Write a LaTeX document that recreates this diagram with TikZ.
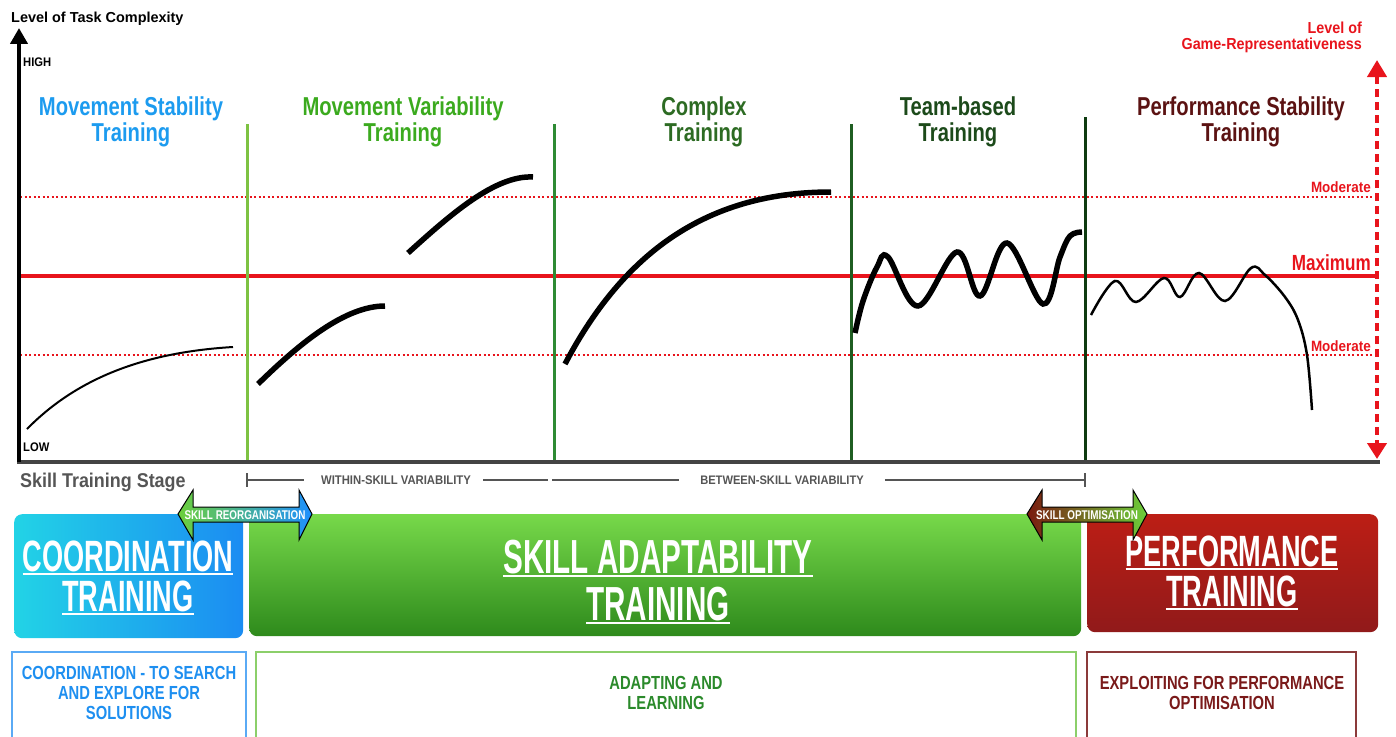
\documentclass[tikz,border=0pt]{standalone}
\usepackage{fontspec}
\setmainfont{Liberation Sans}
\newfontfamily\fA[FakeStretch=0.9]{Liberation Sans}
\newfontfamily\fB[FakeStretch=0.78]{Liberation Sans}
\newfontfamily\fC[FakeStretch=0.62]{Liberation Sans}
\usetikzlibrary{arrows.meta,shadings}
\definecolor{cRed}{HTML}{E8141C}
\definecolor{cGray}{HTML}{555555}
\definecolor{cMS}{HTML}{1C9BEF}
\definecolor{cMV}{HTML}{3BAA1E}
\definecolor{cCT}{HTML}{2D6B23}
\definecolor{cTB}{HTML}{1C4A1A}
\definecolor{cPS}{HTML}{5B1212}
\definecolor{vA}{HTML}{7DC242}
\definecolor{vB}{HTML}{2E8B34}
\definecolor{vC}{HTML}{1F5E22}
\definecolor{vD}{HTML}{0E3B10}
\definecolor{bCa}{HTML}{22D3E6}
\definecolor{bCb}{HTML}{1B8CF2}
\definecolor{bSa}{HTML}{77D94A}
\definecolor{bSb}{HTML}{2E8A1C}
\definecolor{bPa}{HTML}{BC1E15}
\definecolor{bPb}{HTML}{911A1A}
\definecolor{lA}{HTML}{5AAAF5}
\definecolor{tA}{HTML}{1E8FF0}
\definecolor{lB}{HTML}{8CCF6A}
\definecolor{tB}{HTML}{2B8A2B}
\definecolor{lC}{HTML}{8B3A3A}
\definecolor{tC}{HTML}{7A1A1A}
\definecolor{arM}{HTML}{7A1A10}
\definecolor{arG}{HTML}{6CCF3A}
\definecolor{arB}{HTML}{1E90FF}
\newcommand\myul[1]{\setbox0\hbox{#1}\leavevmode\rlap{\rule[-4pt]{\wd0}{2.4pt}}\box0}
\tikzset{
  txt/.style={inner sep=0pt, font=\fA\bfseries},
  title/.style={inner sep=0pt, align=center, font=\fB\bfseries\fontsize{26}{26}\selectfont},
  stageline/.style={line width=3bp},
  thickcurve/.style={line width=5.5bp, black},
  thincurve/.style={line width=2bp, black},
  dotline/.style={cRed, line width=1.5bp, dash pattern=on 2bp off 2.5bp},
  bigbox/.style={rounded corners=8bp, inner sep=0pt, anchor=north west},
  bigtxt/.style={inner sep=0pt, align=center, text=white},
  arrowtxt/.style={inner sep=0pt, text=white, font=\fB\bfseries\fontsize{12.7}{14}\selectfont},
  lowtxt/.style={inner sep=0pt, align=center, font=\fB\bfseries\fontsize{19}{20}\selectfont},
  brk/.style={cGray, line width=2bp},
}
\begin{document}
\begin{tikzpicture}[x=1bp,y=-1bp]
\useasboundingbox (0,0) rectangle (1396,736);
\clip (0,0) rectangle (1396,736);

% labels of axes
\node[txt, anchor=base west, font=\bfseries\fontsize{14.5}{17}\selectfont] (ylab) at (11,23) {Level of Task Complexity};
\node[txt, anchor=base west, font=\fA\bfseries\fontsize{12.5}{14}\selectfont] (high) at (23,67) {HIGH};
\node[txt, anchor=base west, font=\fA\bfseries\fontsize{12.5}{14}\selectfont] (low) at (23,451) {LOW};
\node[txt, anchor=base east, align=right, text=cRed, font=\fA\bfseries\fontsize{16}{17}\selectfont] (glab) at (1362,50) {Level of\\Game-Representativeness};

% reference lines
\coordinate (modTl) at (20,197); \coordinate (modTr) at (1372,197);
\coordinate (maxl) at (20,276); \coordinate (maxr) at (1377,276);
\coordinate (modBl) at (20,355); \coordinate (modBr) at (1372,355);
\draw[dotline] (modTl) -- (modTr);
\draw[dotline] (modBl) -- (modBr);
\draw[cRed, line width=3.5bp] (maxl) -- (maxr);
\node[txt, anchor=base east, text=cRed, font=\fA\bfseries\fontsize{15}{17}\selectfont] (modT) at (1371,192) {Moderate};
\node[txt, anchor=base east, text=cRed, font=\fB\bfseries\fontsize{22}{24}\selectfont] (maxlab) at (1371,270) {Maximum};
\node[txt, anchor=base east, text=cRed, font=\fA\bfseries\fontsize{15}{17}\selectfont] (modB) at (1371,351) {Moderate};

% stage dividers
\draw[stageline, vA] (247,124) -- (247,462);
\draw[stageline, vB] (554,124) -- (554,462);
\draw[stageline, vC] (851,124) -- (851,462);
\draw[stageline, vD] (1085,117) -- (1085,462);

% axes
\coordinate (orig) at (19,462);
\coordinate (ytop) at (19,28);
\coordinate (xend) at (1380,462);
\draw[cGray!80!black, line width=3.5bp] (17,462) -- (xend);
\draw[black, line width=4bp, -{Triangle[width=17bp,length=16bp]}] (orig) -- (ytop);
\coordinate (rtop) at (1377,60);
\coordinate (rbot) at (1377,459);
\draw[cRed, line width=4bp, dash pattern=on 8bp off 5bp, {Triangle[width=19bp,length=17bp]}-{Triangle[width=19bp,length=16bp]}] (rtop) -- (rbot);

% stage titles
\node[title, text=cMS] (tMS) at (131,121.5) {Movement Stability\\Training};
\node[title, text=cMV] (tMV) at (403,121.5) {Movement Variability\\Training};
\node[title, text=cCT] (tCT) at (704,121.5) {Complex\\Training};
\node[title, text=cTB] (tTB) at (958,121.5) {Team-based\\Training};
\node[title, text=cPS] (tPS) at (1241,121.5) {Performance Stability\\Training};

% curves
\draw[thincurve] (27,429) .. controls (80,375) and (150,352) .. (233,347);
\draw[thickcurve] (258,384) .. controls (300,343) and (345,306) .. (385,306);
\draw[thickcurve] (408,253) .. controls (450,215) and (495,175) .. (533,177);
\draw[thickcurve] (565,364) .. controls (630,240) and (720,192) .. (831,192);
\draw[thickcurve] plot[smooth, tension=0.6] coordinates {(855,333) (863,301) (877,267) (888,257) (918,306) (957,252) (980,296) (1007,243) (1043,304) (1060,257) (1070,236) (1082,232)};
\draw[thincurve, line width=2.5bp] plot[smooth, tension=0.6] coordinates {(1091,315) (1115,281) (1136,302) (1164,278) (1180,297) (1199,273) (1225,301) (1251,268) (1265,275) (1285,297) (1298,320) (1307,355) (1312,410)};

% skill training stage row
\node[txt, anchor=base west, text=cGray, font=\fA\bfseries\fontsize{20}{22}\selectfont] (sts) at (20,487) {Skill Training Stage};
\node[txt, text=cGray, font=\fA\bfseries\fontsize{12.6}{14}\selectfont] (within) at (396,480) {WITHIN-SKILL VARIABILITY};
\node[txt, text=cGray, font=\fA\bfseries\fontsize{12.4}{14}\selectfont] (between) at (782,480) {BETWEEN-SKILL VARIABILITY};
\coordinate (bA) at (247,480);
\coordinate (bB) at (548,480);
\coordinate (bC) at (552,480);
\coordinate (bD) at (1085,480);
\draw[brk] (247,473) -- (247,487);
\draw[brk] (1085,473) -- (1085,487);
\draw[brk] (bA) -- ([xshift=-17bp]within.west);
\draw[brk] ([xshift=12bp]within.east) -- (bB);
\draw[brk] (bC) -- ([xshift=-21bp]between.west);
\draw[brk] ([xshift=21bp]between.east) -- (bD);

% big boxes
\node[bigbox, left color=bCa, right color=bCb, minimum width=229bp, minimum height=124bp] (coordbox) at (14,514) {};
\node[bigbox, top color=bSa, bottom color=bSb, minimum width=832bp, minimum height=122bp] (adaptbox) at (249,514) {};
\node[bigbox, top color=bPa, bottom color=bPb, minimum width=291bp, minimum height=118bp] (perfbox) at (1087,514) {};
\node[bigtxt, font=\fC\bfseries\fontsize{44}{40}\selectfont] (coordtxt) at (128,578) {\myul{COORDINATION}\\\myul{TRAINING}};
\node[bigtxt, font=\fC\bfseries\fontsize{48}{47}\selectfont] (adapttxt) at (658,582) {\myul{SKILL ADAPTABILITY}\\\myul{TRAINING}};
\node[bigtxt, font=\fC\bfseries\fontsize{44}{40}\selectfont] (perftxt) at (1232,573) {\myul{PERFORMANCE}\\\myul{TRAINING}};

% transition double arrows
\path[left color=arG, right color=arB, draw=black, line width=1bp]
  (178,514) -- (193,490) -- (193,507) -- (299,507) -- (299,490) -- (312,514)
  -- (299,540) -- (299,522) -- (193,522) -- (193,540) -- cycle;
\node[arrowtxt] (reorg) at (245,515) {SKILL REORGANISATION};
\path[left color=arM, right color=arG, draw=black, line width=1bp]
  (1027,514) -- (1042,490) -- (1042,507) -- (1133,507) -- (1133,490) -- (1147,514)
  -- (1133,540) -- (1133,522) -- (1042,522) -- (1042,540) -- cycle;
\node[arrowtxt] (optim) at (1087,515) {SKILL OPTIMISATION};

% lower description frames
\draw[lA, line width=2bp] (12,740) |- (246,652) -- (246,740);
\draw[lB, line width=2bp] (256,740) |- (1076,652) -- (1076,740);
\draw[lC, line width=2bp] (1087,740) |- (1356,652) -- (1356,740);
\node[lowtxt, text=tA] (descA) at (129,693) {COORDINATION - TO SEARCH\\AND EXPLORE FOR\\SOLUTIONS};
\node[lowtxt, text=tB] (descB) at (666,693) {ADAPTING AND\\LEARNING};
\node[lowtxt, text=tC] (descC) at (1222,693) {EXPLOITING FOR PERFORMANCE\\OPTIMISATION};
\end{tikzpicture}
\end{document}
